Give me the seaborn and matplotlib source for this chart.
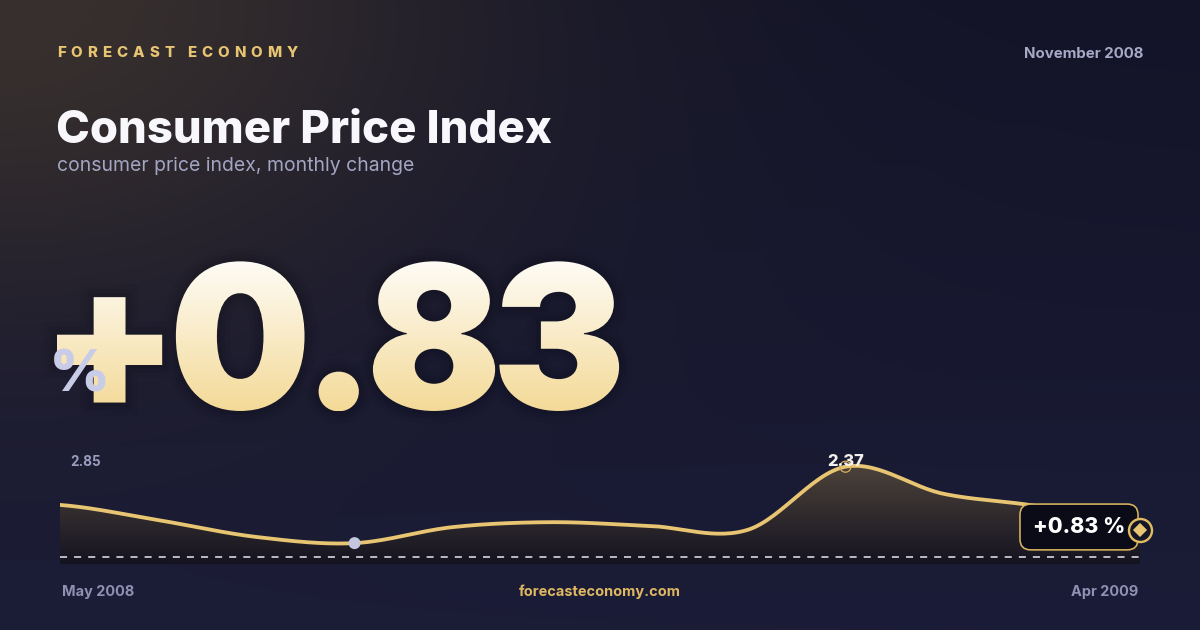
import numpy as np
import matplotlib
matplotlib.use("Agg")
import matplotlib.pyplot as plt
import seaborn as sns
from matplotlib.textpath import TextPath, text_to_path
from matplotlib.font_manager import FontProperties
from matplotlib.path import Path
from matplotlib.patches import PathPatch
from matplotlib.transforms import Affine2D

# Data
months = ["May 2008", "Jun 2008", "Jul 2008", "Aug 2008", "Sep 2008", "Oct 2008",
          "Nov 2008", "Dec 2008", "Jan 2009", "Feb 2009", "Mar 2009", "Apr 2009"]
cpi_change = [1.44, 1.07, 0.66, 0.51, 0.90, 1.02, 0.93, 0.83, 2.37, 1.71, 1.39, 0.83]
y_range = (-0.12, 2.85)
range_labels = ["2.85", "-0.12"]

brand = "FORECAST ECONOMY"
title = "Consumer Price Index"
subtitle = "consumer price index, monthly change"
period = "November 2008"
site = "forecasteconomy.com"

GOLD = "#e8c572"
W, H = 1200, 630
PX = 0.72  # points per pixel at dpi 100

sns.set_theme(style="white")
plt.rcParams["font.family"] = ["Inter", "DejaVu Sans"]

fig = plt.figure(figsize=(12, 6.3), dpi=100)

# background in pixel coordinates
bg = fig.add_axes([0, 0, 1, 1])
bg.set_xlim(0, W)
bg.set_ylim(H, 0)
bg.axis("off")

yy, xx = np.mgrid[0:H, 0:W]
base = np.array([0x13, 0x14, 0x28]) / 255
low = np.array([0x1b, 0x1c, 0x37]) / 255
glow = np.array([0x38, 0x30, 0x2e]) / 255
vert = (yy / H)[..., None]
img = base * (1 - vert) + low * vert
g = np.exp(-((xx / 500.0) ** 2 + (yy / 320.0) ** 2))[..., None]
img = img * (1 - g) + glow * g
bg.imshow(img, extent=[0, W, H, 0], aspect="auto", zorder=0)


def text_adv(s, prop):
    # advance width of s, measured with a trailing "I" so spaces count
    w_all = text_to_path.get_text_width_height_descent(s + "I", prop, ismath=False)[0]
    w_i = text_to_path.get_text_width_height_descent("I", prop, ismath=False)[0]
    return w_all - w_i


def tracked_text(ax, x, y, s, size_px, track_px, **kw):
    prop = FontProperties(family="Inter", weight=kw.get("fontweight", "normal"), size=size_px)
    for i, ch in enumerate(s):
        if ch == " ":
            continue
        xi = x + (text_adv(s[:i], prop) if i else 0) + i * track_px
        ax.text(xi, y, ch, fontsize=size_px * PX, ha="left", va="center", **kw)


tracked_text(bg, 57, 53, brand, 15, 5.0, color=GOLD, fontweight="heavy")
bg.text(1143, 54, period, color="#a7a9c7", fontsize=15 * PX, fontweight="bold",
        va="center", ha="right")
bg.text(56, 143, title, color="#f8f8fc", fontsize=45.5 * PX, fontweight="heavy",
        va="baseline", ha="left")
bg.text(57, 166, subtitle, color="#a3a5c3", fontsize=19.4 * PX, va="center", ha="left")

# headline value with vertical gradient
headline = f"{cpi_change[-1]:+.2f}"
fp = FontProperties(family="Inter", weight="black", size=100)
track = -5.0
paths = []
for i, ch in enumerate(headline):
    adv = text_to_path.get_text_width_height_descent(headline[:i], fp, ismath=False)[0] if i else 0
    tp = TextPath((adv + i * track, 0), ch, prop=fp)
    paths.append(tp)
glyphs = Path.make_compound_path(*paths)
ext = glyphs.get_extents()
scale = 150.0 / ext.height
x0, base_y = 57 - ext.x0 * scale, 409
aff = Affine2D().scale(scale, -scale).translate(x0, base_y)
num_path = aff.transform_path(glyphs)
nb = num_path.get_extents()

for lw, a in [(26, 0.05), (16, 0.07), (8, 0.09)]:
    bg.add_patch(PathPatch(num_path, fc="#06070f", ec="#06070f", lw=lw * PX, alpha=a,
                           zorder=1, transform=bg.transData))
grad = np.linspace(0, 1, 200)[:, None, None]
top_c = np.array([0xfe, 0xfc, 0xf6]) / 255
bot_c = np.array([0xf4, 0xda, 0x98]) / 255
gimg = top_c * (1 - grad) + bot_c * grad
gimg = np.repeat(gimg, 2, axis=1)
im = bg.imshow(gimg, extent=[nb.x0, nb.x1, nb.y1, nb.y0], aspect="auto", zorder=2)
im.set_clip_path(PathPatch(num_path, transform=bg.transData))
bg.set_xlim(0, W)
bg.set_ylim(H, 0)

bg.text(50, 392, "%", color="#c9cce6", fontsize=57 * PX, fontweight="black",
        va="baseline", ha="left", zorder=3)

# range labels and footer
bg.text(70, 462, range_labels[0], color="#9b9dbd", fontsize=13.5 * PX, fontweight="bold",
        va="center", ha="left", zorder=4)
bg.text(70, 547, range_labels[1], color="#9b9dbd", fontsize=13.5 * PX, fontweight="bold",
        va="center", ha="left", zorder=4)
bg.text(62, 592, months[0], color="#8f91b3", fontsize=14.5 * PX, fontweight="bold",
        va="center", ha="left")
bg.text(1138, 592, months[-1], color="#8f91b3", fontsize=14.5 * PX, fontweight="bold",
        va="center", ha="right")
bg.text(600, 592, site, color="#e0b862", fontsize=14.5 * PX, fontweight="bold",
        va="center", ha="center")


# smooth line through the monthly values (uniform Catmull-Rom)
def catmull_rom(vals, steps=30):
    v = np.asarray(vals, float)
    p = np.concatenate([[v[0]], v, [v[-1]]])
    xs, ys = [], []
    t = np.linspace(0, 1, steps, endpoint=False)
    for i in range(len(v) - 1):
        p0, p1, p2, p3 = p[i:i + 4]
        ys.append(0.5 * (2 * p1 + (p2 - p0) * t + (2 * p0 - 5 * p1 + 4 * p2 - p3) * t ** 2
                         + (3 * p1 - p0 - 3 * p2 + p3) * t ** 3))
        xs.append(i + t)
    xs.append([len(v) - 1])
    ys.append([v[-1]])
    return np.concatenate(xs), np.concatenate(ys)


idx = np.arange(len(months))
sx, sy = catmull_rom(cpi_change)

ax = fig.add_axes([60 / W, 61 / H, 1080 / W, 122 / H], zorder=5)
ax.patch.set_alpha(0)
ax.axis("off")

poly = ax.fill_between(sx, sy, 0, color="none", lw=0)
fill_top = np.array([0x57, 0x4b, 0x3f]) / 255
fill_bot = np.array([0x12, 0x11, 0x1f]) / 255
fg = np.linspace(0, 1, 200)[:, None, None]
fimg = np.repeat(fill_top * (1 - fg) + fill_bot * fg, 2, axis=1)
fim = ax.imshow(fimg, extent=[0, len(months) - 1, y_range[0], y_range[1]],
                aspect="auto", zorder=1)
fim.set_clip_path(poly.get_paths()[0], transform=ax.transData)

ax.plot([0, 1], [0.098, 0.098], transform=ax.transAxes, color="#ececf2",
        lw=1.5 * PX, dashes=(4.7, 4.7), zorder=2)

sns.lineplot(x=sx, y=sy, ax=ax, color=GOLD, lw=3.8 * PX, sort=False,
             estimator=None, zorder=3)

imin = int(np.argmin(cpi_change))
imax = int(np.argmax(cpi_change))
sns.scatterplot(x=[idx[imin]], y=[cpi_change[imin]], ax=ax, s=(12 * PX) ** 2,
                color="#c3c6de", edgecolor="none", zorder=6)
ax.scatter([idx[imax]], [cpi_change[imax]], s=(11 * PX) ** 2, facecolor="none",
           edgecolor="#d4ad5a", lw=1.3 * PX, zorder=6)
ax.annotate(f"{cpi_change[imax]:.2f}", xy=(idx[imax], cpi_change[imax]),
            xytext=(0, 5 * PX), textcoords="offset points", ha="center", va="center",
            color="#f2f0ea", fontsize=16.5 * PX, fontweight="heavy", zorder=7)

last = len(months) - 1
ax.annotate(f"{cpi_change[-1]:+.2f} %", xy=(last, cpi_change[-1]),
            xytext=(-61 * PX, 3 * PX), textcoords="offset points", ha="center",
            va="center", color="white", fontsize=21.5 * PX, fontweight="heavy", zorder=7,
            annotation_clip=False,
            bbox=dict(boxstyle="round,pad=0.6,rounding_size=0.5", fc="#0a0b17",
                      ec="#d8b45e", lw=1.6 * PX))
ax.scatter([last], [cpi_change[-1]], s=(23 * PX) ** 2, facecolor="#151626",
           edgecolor="#e0bb62", lw=2.4 * PX, zorder=8, clip_on=False)
ax.scatter([last], [cpi_change[-1]], marker="D", s=(10 * PX) ** 2, color=GOLD,
           edgecolor="none", zorder=9, clip_on=False)

ax.set_xlim(0, last)
ax.set_ylim(*y_range)

fig.savefig("out.png", dpi=100)
